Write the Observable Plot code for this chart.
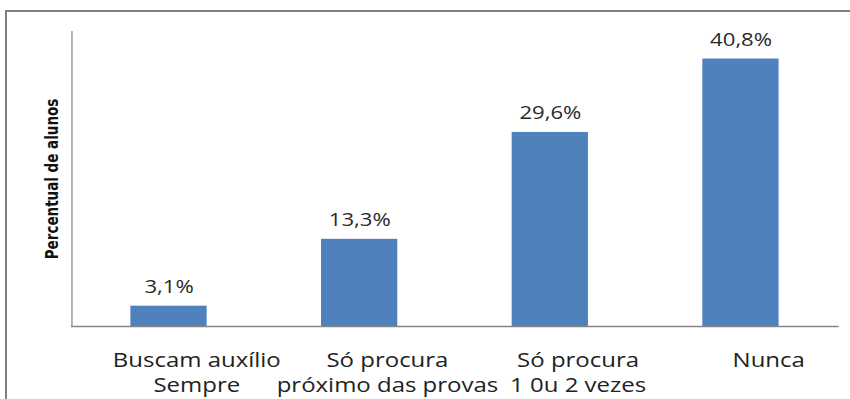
<!DOCTYPE html>
<html>
<head>
<meta charset="utf-8">
<script src="https://cdn.jsdelivr.net/npm/d3@7"></script>
<script src="https://cdn.jsdelivr.net/npm/@observablehq/plot@0.6"></script>
<style>
  html, body { margin: 0; padding: 0; background: #fff; width: 850px; height: 399px; overflow: hidden; }
  #frame { position: absolute; left: 5px; top: 10px; width: 900px; height: 500px;
           border-top: 2px solid #808080; border-left: 2px solid #808080; }
  #chart { position: absolute; left: 0; top: 0; }
  /* the reference image is stretched horizontally; reproduce that */
  #chart svg { transform: scaleX(1.23); transform-origin: 0 0; }
</style>
</head>
<body>
<div id="frame"></div>
<div id="chart"></div>
<script>
const categories = [
  "Buscam auxílio\nSempre",
  "Só procura\npróximo das provas",
  "Só procura\n1 0u 2 vezes",
  "Nunca"
];
const values = [3.1, 13.3, 29.6, 40.8];
const valueLabels = ["3,1%", "13,3%", "29,6%", "40,8%"];
const yLabel = "Percentual de alunos";

const data = categories.map((c, i) => ({category: c, value: values[i], label: valueLabels[i]}));

const chart = Plot.plot({
  width: 691,
  height: 399,
  marginLeft: 58,
  marginRight: 10.5,
  marginTop: 31,
  marginBottom: 73,
  style: {background: "transparent", fontFamily: "'Open Sans', sans-serif", color: "#222"},
  x: {domain: categories, paddingInner: 0.6, paddingOuter: 0.3},
  y: {domain: [0, 45]},
  marks: [
    Plot.barY(data, {x: "category", y: "value", fill: "#4f81bd"}),
    Plot.text(data, {x: "category", y: "value", text: "label", dy: -19, fontSize: 18, fill: "#2a2a2a"}),
    Plot.axisX({tickSize: 0, tickPadding: 22, fontSize: 19.5, lineHeight: 1.3, label: null, dx: 22.5, fill: "#222"}),
    Plot.axisY({ticks: [], tickSize: 0, label: yLabel, labelAnchor: "center", labelArrow: "none",
                labelOffset: 22, fontSize: 15, fontWeight: "bold",
                fontFamily: "'Liberation Sans Narrow', 'DejaVu Sans Condensed', sans-serif", fill: "#111"}),
    Plot.frame({anchor: "left", stroke: "#868686", strokeWidth: 1}),
    Plot.frame({anchor: "bottom", stroke: "#868686", strokeWidth: 1.5})
  ]
});
document.getElementById("chart").appendChild(chart);
</script>
</body>
</html>
